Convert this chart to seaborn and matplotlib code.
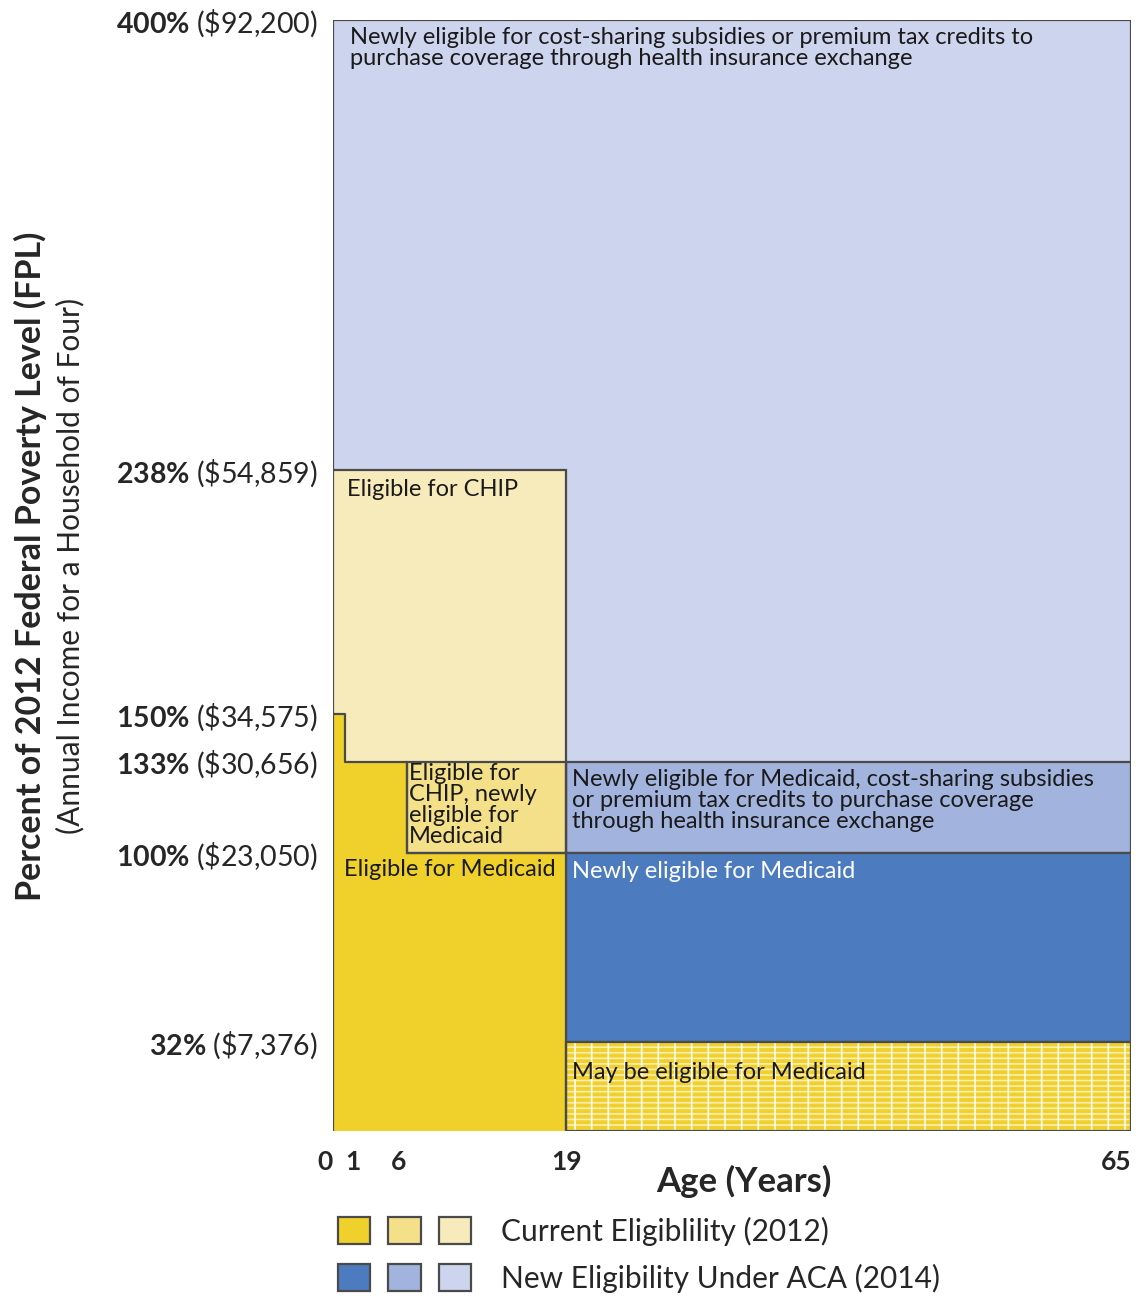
import numpy as np
import matplotlib.pyplot as plt
import seaborn as sns
from matplotlib.patches import Patch
from matplotlib.legend_handler import HandlerTuple

# ---- data ----
age_ticks = [0, 1, 6, 19, 65]
fpl_ticks = [32, 100, 133, 150, 238, 400]
fpl_pct = ["32%", "100%", "133%", "150%", "238%", "400%"]
fpl_dollars = ["$7,376", "$23,050", "$30,656", "$34,575", "$54,859", "$92,200"]

# children's Medicaid upper limit, step by age
medicaid_age = [0, 1, 6, 19]
medicaid_top = [150, 133, 100, 100]

# rectangular eligibility regions (age from/to, FPL from/to)
region_age_lo = [0, 0, 6, 19, 19, 19]
region_age_hi = [65, 19, 19, 65, 65, 65]
region_fpl_lo = [0, 0, 100, 100, 32, 0]
region_fpl_hi = [400, 238, 133, 133, 100, 32]
region_labels = [
    "Newly eligible for cost-sharing subsidies or premium tax credits to\npurchase coverage through health insurance exchange",
    "Eligible for CHIP",
    "Eligible for\nCHIP, newly\neligible for\nMedicaid",
    "Newly eligible for Medicaid, cost-sharing subsidies\nor premium tax credits to purchase coverage\nthrough health insurance exchange",
    "Newly eligible for Medicaid",
    "May be eligible for Medicaid",
]

YEL = ["#F0D12C", "#F5E08A", "#F8EBBB"]
BLU = ["#4C7CBF", "#A2B4DE", "#CDD5EE"]
region_colors = [BLU[2], YEL[2], YEL[1], BLU[1], BLU[0], YEL[0]]
EDGE = "#4a4a4a"

sns.set_theme(style="white")
plt.rcParams["font.family"] = ["Lato", "DejaVu Sans"]
plt.rcParams["mathtext.fontset"] = "custom"
plt.rcParams["mathtext.rm"] = "Lato"
plt.rcParams["mathtext.bf"] = "Lato:bold"
plt.rcParams["hatch.linewidth"] = 1.2

fig = plt.figure(figsize=(11.4, 12.98), dpi=100)
ax = fig.add_axes([333 / 1140, 1 - 1131 / 1298, 798 / 1140, 1111 / 1298])

# regions
for i in range(len(region_labels)):
    w = region_age_hi[i] - region_age_lo[i]
    h = region_fpl_hi[i] - region_fpl_lo[i]
    if i == 5:
        # "may be eligible": yellow with a faint grid
        ax.bar(region_age_lo[i], h, width=w, bottom=region_fpl_lo[i], align="edge",
               color=region_colors[i], edgecolor="#F9EDB5", hatch="---", linewidth=0, zorder=3)
        ax.bar(region_age_lo[i], h, width=w, bottom=region_fpl_lo[i], align="edge",
               fill=False, edgecolor="#FFFDF0", hatch="|", linewidth=0, zorder=3)
        ax.bar(region_age_lo[i], h, width=w, bottom=region_fpl_lo[i], align="edge",
               fill=False, edgecolor=EDGE, linewidth=1.6, zorder=4)
    else:
        ax.bar(region_age_lo[i], h, width=w, bottom=region_fpl_lo[i], align="edge",
               color=region_colors[i], edgecolor=EDGE, linewidth=1.6,
               zorder=1 + (i > 0) + (i == 2) * 2)

# children's Medicaid step
ax.fill_between(medicaid_age, 0, medicaid_top, step="post", color=YEL[0], linewidth=0, zorder=3)
ax.step(medicaid_age, medicaid_top, where="post", color=EDGE, linewidth=1.6, zorder=5)
ax.plot([0, 0], [0, medicaid_top[0]], color=EDGE, linewidth=1.6, zorder=5)
ax.plot([medicaid_age[-1]] * 2, [0, 133], color=EDGE, linewidth=1.6, zorder=5)

# region labels
fs = 17
txt = dict(fontsize=fs, color="#1a1a1a", linespacing=1.0, zorder=6)
ax.text(region_age_lo[0] + 1.4, region_fpl_hi[0] - 2.5, region_labels[0], va="top", **txt)
ax.text(region_age_lo[1] + 1.1, 231, region_labels[1], va="center", **txt)
ax.text(region_age_lo[2] + 0.2, region_fpl_hi[2] - 0.5, region_labels[2], va="top", **txt)
ax.text(0.9, 94, "Eligible for Medicaid", va="center", **txt)
ax.text(region_age_lo[3] + 0.5, region_fpl_hi[3] - 2.5, region_labels[3], va="top", **txt)
ax.text(region_age_lo[4] + 0.5, 93.5, region_labels[4], va="center",
        **{**txt, "color": "white"})
ax.text(region_age_lo[5] + 0.5, 21, region_labels[5], va="center", **txt)

# axes
ax.set_xlim(0, 65)
ax.set_ylim(0, 400)
for s in ax.spines.values():
    s.set_visible(False)
ax.set_xticks(age_ticks)
ax.set_xticklabels([str(a) for a in age_ticks], fontsize=19, fontweight="bold")
for lab, ha in zip(ax.get_xticklabels(), ["right", "left", "right", "center", "right"]):
    lab.set_ha(ha)
ax.set_yticks(fpl_ticks)
ax.set_yticklabels([r"$\mathbf{" + p.replace("%", r"\%") + "}$ (" + d.replace("$", r"\$") + ")"
                    for p, d in zip(fpl_pct, fpl_dollars)], fontsize=20.5)
ax.tick_params(axis="x", length=0, pad=14)
ax.tick_params(axis="y", length=0, pad=11)
ax.grid(False)

ax.text(33.5, -18, "Age (Years)", ha="center", va="center", fontsize=25, fontweight="bold")
fig.text(30 / 1140, 1 - 566 / 1298, "Percent of 2012 Federal Poverty Level (FPL)",
         rotation=90, ha="center", va="center", fontsize=24.5, fontweight="bold")
fig.text(70 / 1140, 1 - 566 / 1298, "(Annual Income for a Household of Four)",
         rotation=90, ha="center", va="center", fontsize=21.5)

# legend
yel_handles = tuple(Patch(facecolor=c, edgecolor=EDGE, linewidth=1.6) for c in YEL)
blu_handles = tuple(Patch(facecolor=c, edgecolor=EDGE, linewidth=1.6) for c in BLU)
fig.legend([yel_handles, blu_handles],
           ["Current Eligiblility (2012)", "New Eligibility Under ACA (2014)"],
           handler_map={tuple: HandlerTuple(ndivide=None, pad=0.6)},
           loc="upper left", bbox_to_anchor=(338 / 1140, 1 - 1217 / 1298),
           frameon=False, fontsize=21.5, handlelength=4.45, handleheight=1.02,
           handletextpad=1.0, labelspacing=0.6, borderpad=0, borderaxespad=0)

fig.savefig("out.png", dpi=100)
